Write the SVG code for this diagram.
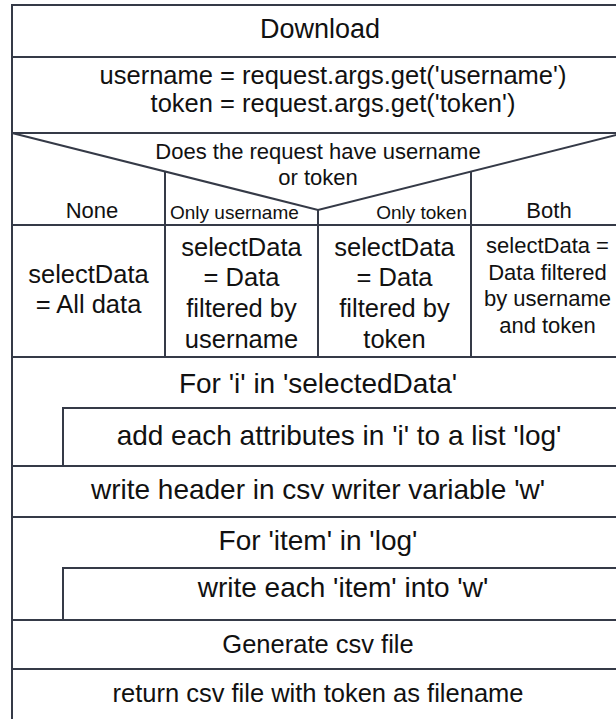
<svg xmlns="http://www.w3.org/2000/svg" width="616" height="719" viewBox="0 0 616 719">
<style>
.ln{fill:none;stroke:#353a47;stroke-width:2}
text{font-family:"Liberation Sans",Arial,sans-serif;fill:#111;text-anchor:middle}
.f28{font-size:28px}.f27{font-size:27px}.f25{font-size:25.5px}.f22{font-size:22px}.f19{font-size:19px}
</style>
<rect width="616" height="719" fill="#fff"/>
<g id="frame"><rect class="ln" x="12" y="5" width="612" height="718"/></g>
<g id="title"><text class="f27" x="320" y="38">Download</text></g>
<g id="params">
<line class="ln" x1="12" y1="57" x2="624" y2="57"/>
<text class="f25" x="333" y="84">username = request.args.get('username')</text>
<text class="f25" x="333" y="112">token = request.args.get('token')</text>
</g>
<g id="decision">
<line class="ln" x1="12" y1="133" x2="624" y2="133"/>
<polyline class="ln" points="12,133 318,210 624,133"/>
<text class="f22" x="318" y="159">Does the request have username</text>
<text class="f22" x="318" y="185">or token</text>
<line class="ln" x1="165" y1="171.5" x2="165" y2="357"/>
<line class="ln" x1="318" y1="210" x2="318" y2="357"/>
<line class="ln" x1="471" y1="171.5" x2="471" y2="357"/>
<line class="ln" x1="12" y1="225" x2="624" y2="225"/>
</g>
<g id="case-none">
<text class="f22" x="92" y="218">None</text>
<text class="f25" x="88.5" y="282.5">selectData</text>
<text class="f25" x="88.5" y="313">= All data</text>
</g>
<g id="case-username">
<text class="f19" x="170" y="219" style="text-anchor:start">Only username</text>
<text class="f25" x="241.5" y="255.5">selectData</text>
<text class="f25" x="241.5" y="286.2">= Data</text>
<text class="f25" x="241.5" y="316.9">filtered by</text>
<text class="f25" x="241.5" y="347.6">username</text>
</g>
<g id="case-token">
<text class="f19" x="467" y="219" style="text-anchor:end">Only token</text>
<text class="f25" x="394.5" y="255.5">selectData</text>
<text class="f25" x="394.5" y="286.2">= Data</text>
<text class="f25" x="394.5" y="316.9">filtered by</text>
<text class="f25" x="394.5" y="347.6">token</text>
</g>
<g id="case-both">
<text class="f22" x="549" y="218">Both</text>
<text class="f22" x="547.5" y="253">selectData =</text>
<text class="f22" x="547.5" y="279.5">Data filtered</text>
<text class="f22" x="547.5" y="306">by username</text>
<text class="f22" x="547.5" y="332.5">and token</text>
</g>
<g id="loop1">
<line class="ln" x1="12" y1="357" x2="624" y2="357"/>
<text class="f28" x="318" y="393">For 'i' in 'selectedData'</text>
</g>
<g id="loop1-body">
<polyline class="ln" points="624,408 63,408 63,466"/>
<text class="f28" x="339" y="445">add each attributes in 'i' to a list 'log'</text>
</g>
<g id="write-header">
<line class="ln" x1="12" y1="466" x2="624" y2="466"/>
<text class="f28" x="318" y="499">write header in csv writer variable 'w'</text>
</g>
<g id="loop2">
<line class="ln" x1="12" y1="517" x2="624" y2="517"/>
<text class="f28" x="318" y="550">For 'item' in 'log'</text>
</g>
<g id="loop2-body">
<polyline class="ln" points="624,568 63,568 63,620"/>
<text class="f28" x="343" y="597">write each 'item' into 'w'</text>
</g>
<g id="generate">
<line class="ln" x1="12" y1="620" x2="624" y2="620"/>
<text class="f25" x="318" y="653">Generate csv file</text>
</g>
<g id="return">
<line class="ln" x1="12" y1="669" x2="624" y2="669"/>
<text class="f25" x="318" y="702">return csv file with token as filename</text>
</g>
<g id="connectors"/>
</svg>
